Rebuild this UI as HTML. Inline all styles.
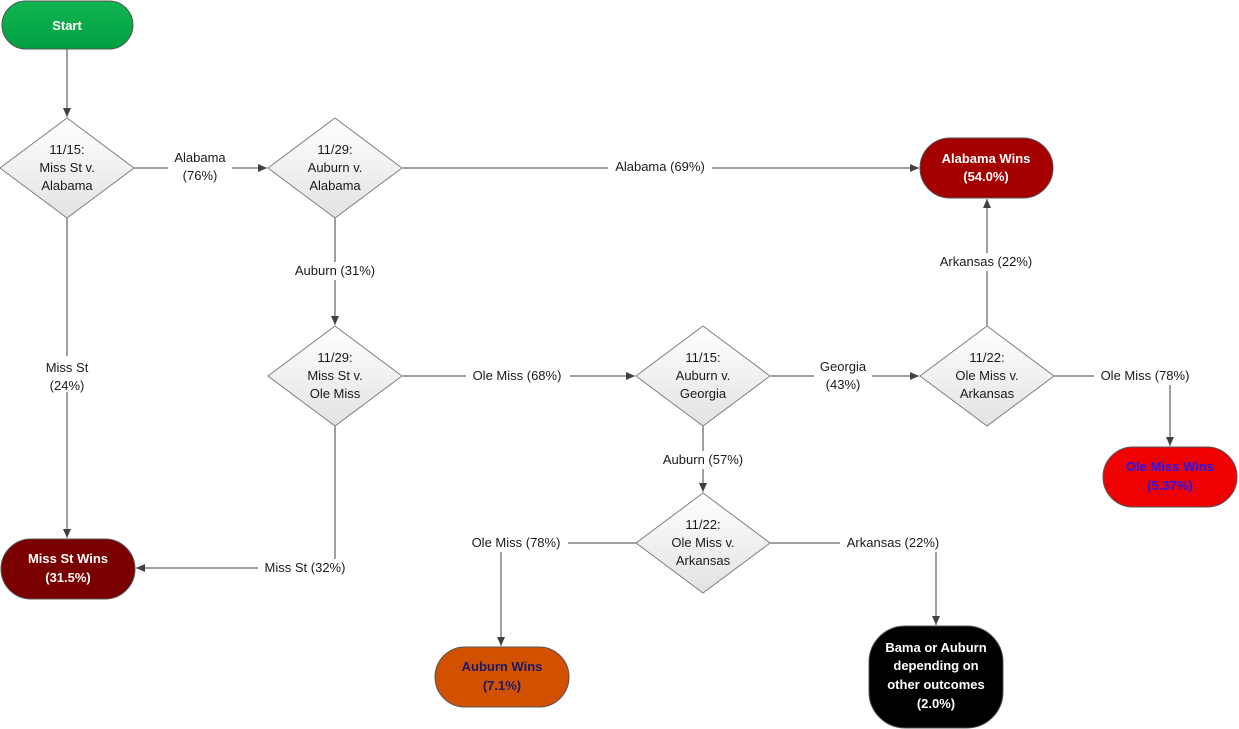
<!DOCTYPE html>
<html><head><meta charset="utf-8"><style>
html,body{margin:0;padding:0;background:#fff;}
svg{display:block;font-family:"Liberation Sans",sans-serif;}
.d{fill:url(#gd);stroke:#7f7f7f;stroke-width:1;}
.l{stroke:#404040;stroke-width:1;fill:none;marker-end:url(#ar);}
.t{font-size:13px;fill:#1a1a1a;text-anchor:middle;}
.w{font-size:13px;font-weight:bold;text-anchor:middle;}
.bg{fill:#fff;}
</style></head><body>
<svg width="1239" height="729" viewBox="0 0 1239 729">
<defs>
<linearGradient id="gd" x1="0" y1="0" x2="0" y2="1"><stop offset="0" stop-color="#ffffff"/><stop offset="1" stop-color="#e2e2e2"/></linearGradient>
<linearGradient id="gg" x1="0" y1="0" x2="0" y2="1"><stop offset="0" stop-color="#12b552"/><stop offset="1" stop-color="#00a040"/></linearGradient>
<marker id="ar" markerWidth="10" markerHeight="10" refX="9" refY="4" orient="auto" markerUnits="userSpaceOnUse"><path d="M0,0 L9,4 L0,8 Z" fill="#404040"/></marker>
</defs>
<!-- connectors -->
<path class="l" d="M67,49 V117"/>
<path class="l" d="M134,168 H267"/>
<path class="l" d="M402,168 H919"/>
<path class="l" d="M335,218 V325"/>
<path class="l" d="M67,218 V538"/>
<path class="l" d="M402,376 H635"/>
<path class="l" d="M335,426 V568 H136"/>
<path class="l" d="M770,376 H919"/>
<path class="l" d="M987,326 V199"/>
<path class="l" d="M1054,376 H1170 V446"/>
<path class="l" d="M703,426 V492"/>
<path class="l" d="M636,543 H501 V646"/>
<path class="l" d="M770,543 H936 V625"/>
<!-- labels -->
<rect class="bg" x="168" y="148" width="64" height="36"/>
<text class="t" x="200" y="162">Alabama</text><text class="t" x="200" y="180">(76%)</text>
<rect class="bg" x="608" y="158" width="104" height="18"/><text class="t" x="660" y="171">Alabama (69%)</text>
<rect class="bg" x="285" y="262" width="100" height="18"/><text class="t" x="335" y="275">Auburn (31%)</text>
<rect class="bg" x="40" y="356" width="54" height="36"/>
<text class="t" x="67" y="372">Miss St</text><text class="t" x="67" y="390">(24%)</text>
<rect class="bg" x="466" y="367" width="104" height="18"/><text class="t" x="517" y="380">Ole Miss (68%)</text>
<rect class="bg" x="258" y="559" width="94" height="18"/><text class="t" x="305" y="572">Miss St (32%)</text>
<rect class="bg" x="814" y="357" width="58" height="36"/>
<text class="t" x="843" y="371">Georgia</text><text class="t" x="843" y="389">(43%)</text>
<rect class="bg" x="932" y="253" width="110" height="18"/><text class="t" x="986" y="266">Arkansas (22%)</text>
<rect class="bg" x="1094" y="367" width="104" height="18"/><text class="t" x="1145" y="380">Ole Miss (78%)</text>
<rect class="bg" x="652" y="451" width="102" height="18"/><text class="t" x="703" y="464">Auburn (57%)</text>
<rect class="bg" x="464" y="534" width="104" height="18"/><text class="t" x="516" y="547">Ole Miss (78%)</text>
<rect class="bg" x="840" y="534" width="108" height="18"/><text class="t" x="893" y="547">Arkansas (22%)</text>
<!-- terminals -->
<rect x="2" y="1" width="131" height="48" rx="24" fill="url(#gg)" stroke="#555" stroke-width="1"/>
<text class="w" x="67" y="30" fill="#fff">Start</text>
<rect x="920" y="138" width="133" height="60" rx="30" fill="#a50000" stroke="#555"/>
<text class="w" x="986" y="163" fill="#fff">Alabama Wins</text><text class="w" x="986" y="181" fill="#fff">(54.0%)</text>
<rect x="1103" y="447" width="134" height="60" rx="30" fill="#f00000" stroke="#555"/>
<text class="w" x="1170" y="471" fill="#1a1aff">Ole Miss Wins</text><text class="w" x="1170" y="490" fill="#1a1aff">(5.37%)</text>
<rect x="1" y="539" width="134" height="60" rx="30" fill="#7a0000" stroke="#555"/>
<text class="w" x="68" y="563" fill="#fff">Miss St Wins</text><text class="w" x="68" y="582" fill="#fff">(31.5%)</text>
<rect x="435" y="647" width="134" height="60" rx="30" fill="#d25100" stroke="#555"/>
<text class="w" x="502" y="671" fill="#1a1a6e">Auburn Wins</text><text class="w" x="502" y="690" fill="#1a1a6e">(7.1%)</text>
<rect x="869" y="626" width="134" height="102" rx="36" fill="#000" stroke="#555"/>
<text class="w" x="936" y="652" fill="#fff">Bama or Auburn</text>
<text class="w" x="936" y="670" fill="#fff">depending on</text>
<text class="w" x="936" y="689" fill="#fff">other outcomes</text>
<text class="w" x="936" y="708" fill="#fff">(2.0%)</text>
<!-- diamonds -->
<polygon class="d" points="67,118 134,168 67,218 0,168"/>
<text class="t" x="67" y="154">11/15:</text><text class="t" x="67" y="172">Miss St v.</text><text class="t" x="67" y="190">Alabama</text>
<polygon class="d" points="335,118 402,168 335,218 268,168"/>
<text class="t" x="335" y="154">11/29:</text><text class="t" x="335" y="172">Auburn v.</text><text class="t" x="335" y="190">Alabama</text>
<polygon class="d" points="335,326 402,376 335,426 268,376"/>
<text class="t" x="335" y="362">11/29:</text><text class="t" x="335" y="380">Miss St v.</text><text class="t" x="335" y="398">Ole Miss</text>
<polygon class="d" points="703,326 770,376 703,426 636,376"/>
<text class="t" x="703" y="362">11/15:</text><text class="t" x="703" y="380">Auburn v.</text><text class="t" x="703" y="398">Georgia</text>
<polygon class="d" points="987,326 1054,376 987,426 920,376"/>
<text class="t" x="987" y="362">11/22:</text><text class="t" x="987" y="380">Ole Miss v.</text><text class="t" x="987" y="398">Arkansas</text>
<polygon class="d" points="703,493 770,543 703,593 636,543"/>
<text class="t" x="703" y="529">11/22:</text><text class="t" x="703" y="547">Ole Miss v.</text><text class="t" x="703" y="565">Arkansas</text>
</svg>
</body></html>
